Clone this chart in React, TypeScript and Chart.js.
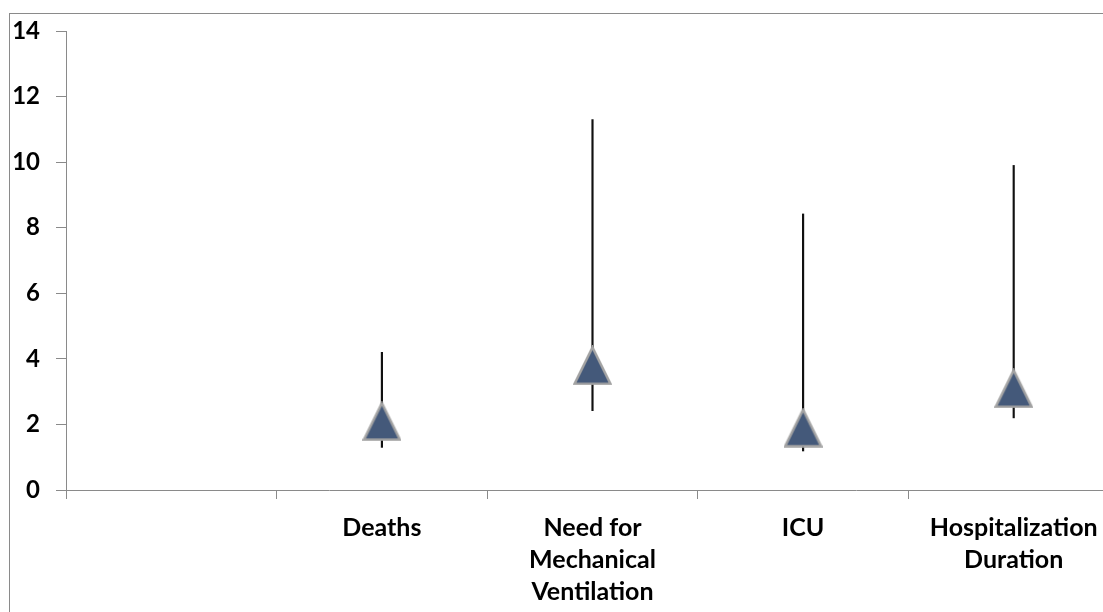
import React, { useEffect, useRef } from "react";
import { Chart, registerables } from "chart.js";

Chart.register(...registerables);

const categories: (string | string[])[] = [
  "",
  "Deaths",
  ["Need for", "Mechanical", "Ventilation"],
  "ICU",
  ["Hospitalization", "Duration"],
];
const estimates: (number | null)[] = [null, 2.1, 3.8, 1.9, 3.1];
const lowerBounds: (number | null)[] = [null, 1.3, 2.42, 1.19, 2.2];
const upperBounds: (number | null)[] = [null, 4.2, 11.3, 8.42, 9.9];
const yTicks: number[] = [0, 2, 4, 6, 8, 10, 12, 14];

function makeTriangle(): HTMLCanvasElement {
  const c = document.createElement("canvas");
  const w = 39;
  const h = 40;
  c.width = w;
  c.height = h;
  const ctx = c.getContext("2d")!;
  ctx.beginPath();
  ctx.moveTo(w / 2, 2);
  ctx.lineTo(w - 1.5, h - 1.5);
  ctx.lineTo(1.5, h - 1.5);
  ctx.closePath();
  ctx.fillStyle = "#44597A";
  ctx.fill();
  ctx.lineWidth = 2.5;
  ctx.strokeStyle = "#A3A3A3";
  ctx.lineJoin = "miter";
  ctx.stroke();
  return c;
}

export default function App() {
  const ref = useRef<HTMLCanvasElement | null>(null);

  useEffect(() => {
    if (!ref.current) return;
    const tri = makeTriangle();
    const family = "Lato, 'Open Sans', sans-serif";
    const chart = new Chart(ref.current, {
      type: "bar",
      data: {
        labels: categories,
        datasets: [
          {
            type: "line",
            label: "Estimate",
            data: estimates,
            showLine: false,
            pointStyle: tri,
            pointRadius: 20,
            order: 0,
          } as any,
          {
            type: "bar",
            label: "CI",
            data: lowerBounds.map((l, i) =>
              l === null || upperBounds[i] === null ? null : [l, upperBounds[i] as number]
            ),
            backgroundColor: "#111111",
            borderWidth: 0,
            barThickness: 1.5,
            order: 1,
          } as any,
        ],
      },
      options: {
        animation: false,
        responsive: true,
        maintainAspectRatio: false,
        layout: { padding: { top: 31, right: 6.5, bottom: 0, left: 0 } },
        plugins: { legend: { display: false }, tooltip: { enabled: false } },
        scales: {
          x: {
            grid: {
              offset: true,
              drawOnChartArea: false,
              drawTicks: true,
              tickLength: 9,
              color: "#8A8A8A",
            },
            border: { color: "#8A8A8A", width: 1 },
            ticks: {
              color: "#000000",
              font: { family, size: 25, weight: "bold", lineHeight: "32px" } as any,
              padding: 13,
              maxRotation: 0,
              autoSkip: false,
            },
            afterFit: (s: any) => {
              s.height = 122;
            },
          },
          y: {
            min: 0,
            max: 14,
            afterBuildTicks: (s: any) => {
              s.ticks = yTicks.map((v) => ({ value: v }));
            },
            grid: {
              drawOnChartArea: false,
              drawTicks: true,
              tickLength: 10,
              color: "#8A8A8A",
            },
            border: { color: "#8A8A8A", width: 1 },
            ticks: { color: "#000000", font: { family, size: 24, weight: "bold" }, padding: 16 },
            afterFit: (s: any) => {
              s.width = 66;
            },
          },
        },
      },
    });
    return () => chart.destroy();
  }, []);

  return (
    <div
      style={{
        position: "fixed",
        left: 0,
        top: 0,
        width: 1103,
        height: 612,
        overflow: "hidden",
        background: "#ffffff",
      }}
    >
      <div
        style={{
          position: "absolute",
          left: 9,
          top: 13,
          width: 1200,
          height: 700,
          borderLeft: "1px solid #8A8A8A",
          borderTop: "1px solid #8A8A8A",
        }}
      />
      <div style={{ position: "absolute", left: 0, top: 0, width: 1140, height: 612 }}>
        <canvas ref={ref} />
      </div>
    </div>
  );
}
